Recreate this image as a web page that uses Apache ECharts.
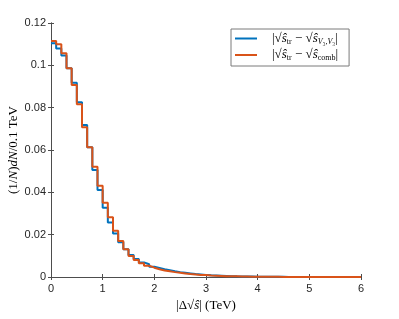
<!DOCTYPE html>
<html><head><meta charset="utf-8">
<script src="https://cdn.jsdelivr.net/npm/echarts@6/dist/echarts.min.js"></script>
<style>html,body{margin:0;padding:0;background:#fff}#c{width:399px;height:319px}</style>
</head><body><div id="c"></div>
<script>
// Histogram bins (TeV), width 0.1 starting at 0
const binWidth = 0.1;
const xTicks = [0, 1, 2, 3, 4, 5, 6];
const yTicks = [0, 0.02, 0.04, 0.06, 0.08, 0.1, 0.12];
// |sqrt(s_tr) - sqrt(s_V3V3)|
const blueValues = [
  0.1104, 0.1080, 0.1046, 0.0986, 0.0918, 0.0826, 0.0718, 0.0613, 0.0506, 0.0411,
  0.0327, 0.0257, 0.0206, 0.0164, 0.0131, 0.0104, 0.0085, 0.0069, 0.0060, 0.0049,
  0.0043, 0.0037, 0.0032, 0.0027, 0.0023, 0.0020, 0.0017, 0.0014, 0.0012, 0.0010,
  0.0008, 0.0007, 0.0006, 0.0005, 0.0004, 0.0003, 0.00025, 0.0002, 0.00018, 0.00015,
  0.00012, 0.0001, 0.00008, 0.00007, 0.00006, 0.00005, 0.00004, 0.00003, 0.00003, 0.00002,
  0.00002, 0.00002, 0.00001, 0.00001, 0.00001, 0.00001, 0.00001, 0.0, 0.0, 0.0
];
// |sqrt(s_tr) - sqrt(s_comb)|
const orangeValues = [
  0.1115, 0.1100, 0.1057, 0.0986, 0.0907, 0.0816, 0.0707, 0.0613, 0.0521, 0.0431,
  0.0351, 0.0282, 0.0219, 0.0170, 0.0131, 0.0099, 0.0080, 0.0065, 0.0053, 0.0044,
  0.0037, 0.0031, 0.0027, 0.0023, 0.0020, 0.0017, 0.0014, 0.0012, 0.0010, 0.0009,
  0.0007, 0.0006, 0.0005, 0.0004, 0.00035, 0.0003, 0.00022, 0.0002, 0.00016, 0.00013,
  0.0001, 0.00008, 0.00007, 0.00006, 0.00005, 0.00004, 0.00003, 0.00003, 0.00002, 0.00002,
  0.00002, 0.00001, 0.00001, 0.00001, 0.00001, 0.00001, 0.0, 0.0, 0.0, 0.0
];
const seriesNames = ['blue', 'orange'];

function steps(vals) {
  const pts = vals.map((v, i) => [+(i * binWidth).toFixed(2), v]);
  pts.push([+(vals.length * binWidth).toFixed(2), vals[vals.length - 1]]);
  return pts;
}

const axisColor = '#4d4d4d';
const labelColor = '#262626';
const sans = 'Liberation Sans';
const serif = 'Liberation Serif';

const chart = echarts.init(document.getElementById('c'), null, {renderer: 'canvas'});
const baseX = {type: 'value', min: xTicks[0], max: xTicks[xTicks.length - 1], interval: 1,
  axisLine: {show: true, lineStyle: {color: axisColor, width: 1}},
  axisTick: {show: true, inside: true, length: 3, lineStyle: {color: axisColor}},
  splitLine: {show: false}};
const baseY = {type: 'value', min: yTicks[0], max: yTicks[yTicks.length - 1], interval: 0.02,
  axisLine: {show: true, lineStyle: {color: axisColor, width: 1}},
  axisTick: {show: true, inside: true, length: 3, lineStyle: {color: axisColor}},
  splitLine: {show: false}};

const legRich = {
  t: {fontFamily: serif, fontSize: 13, color: '#000'},
  it: {fontFamily: serif, fontSize: 13, fontStyle: 'italic', color: '#000'},
  sub: {fontFamily: serif, fontSize: 8, color: '#000', padding: [6, 0, 0, 0]},
  subi: {fontFamily: serif, fontSize: 8, fontStyle: 'italic', color: '#000', padding: [6, 0, 0, 0]}
};

chart.setOption({
  animation: false,
  backgroundColor: '#fff',
  grid: {left: 51, right: 38, top: 23, bottom: 42, containLabel: false, outerBoundsMode: 'none'},
  legend: {
    left: 231, top: 29, orient: 'vertical',
    itemWidth: 22, itemHeight: 2, itemGap: 3, icon: 'rect',
    padding: [3, 11, 4, 4],
    borderColor: '#7a7a7a', borderWidth: 1, backgroundColor: '#fff',
    data: seriesNames,
    formatter: function (n) {
      if (n === 'blue') return '{t||√}{it|ŝ}{sub|tr}{t| − √}{it|ŝ}{subi|V}{sub|₃,}{subi|V}{sub|₃}{t||}';
      return '{t||√}{it|ŝ}{sub|tr}{t| − √}{it|ŝ}{sub|comb}{t||}';
    },
    textStyle: {rich: legRich, padding: [0, 0, 0, 10]}
  },
  xAxis: [
    Object.assign({}, baseX, {
      name: '{t||Δ√}{it|ŝ}{t|| (TeV)}', nameLocation: 'middle', nameGap: 22, nameMoveOverlap: false,
      nameTextStyle: {rich: {t: {fontFamily: serif, fontSize: 13, color: '#000'}, it: {fontFamily: serif, fontSize: 13, fontStyle: 'italic', color: '#000'}}},
      axisLabel: {show: true, color: labelColor, fontFamily: sans, fontSize: 11, margin: 6,
        formatter: v => xTicks.includes(v) ? String(v) : ''}
    }),
    Object.assign({}, baseX, {position: 'top', axisLabel: {show: false}})
  ],
  yAxis: [
    Object.assign({}, baseY, {
      name: '{t|(1/}{it|N}{t|)}{it|dN}{t|/0.1 TeV}', nameLocation: 'middle', nameGap: 31, nameRotate: 90, nameMoveOverlap: false,
      nameTextStyle: {rich: {t: {fontFamily: serif, fontSize: 13, color: '#000'}, it: {fontFamily: serif, fontSize: 13, fontStyle: 'italic', color: '#000'}}},
      axisLabel: {show: true, color: labelColor, fontFamily: sans, fontSize: 11, margin: 5,
        formatter: v => { const t = yTicks.find(y => Math.abs(y - v) < 1e-9); return t === undefined ? '' : String(t); }}
    }),
    Object.assign({}, baseY, {position: 'right', axisLabel: {show: false}})
  ],
  series: [
    {name: 'blue', type: 'line', step: 'end', data: steps(blueValues), symbol: 'none',
      color: '#0072BD', lineStyle: {width: 2, color: '#0072BD'}, z: 2},
    {name: 'orange', type: 'line', step: 'end', data: steps(orangeValues), symbol: 'none',
      color: '#D95319', lineStyle: {width: 2, color: '#D95319'}, z: 3}
  ]
});
</script></body></html>
